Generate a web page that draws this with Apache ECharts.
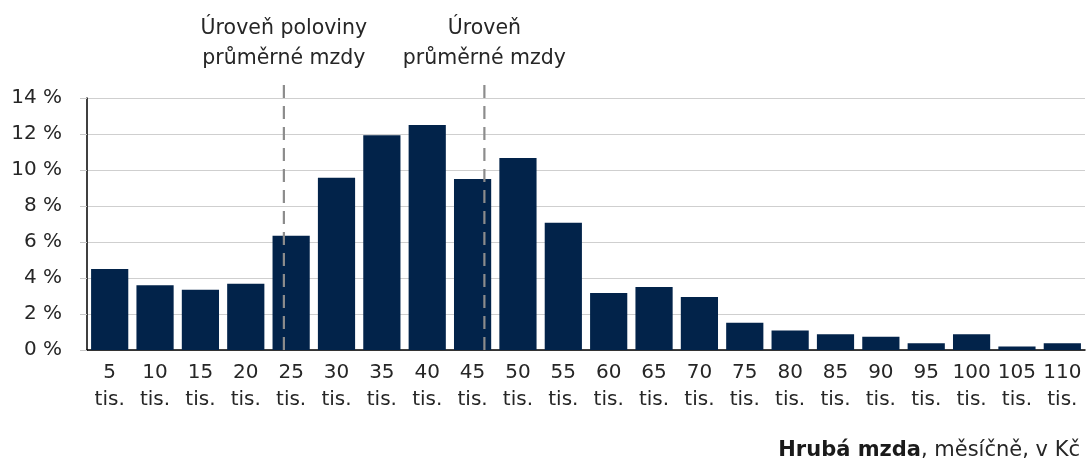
<!DOCTYPE html>
<html><head><meta charset="utf-8">
<script src="https://cdn.jsdelivr.net/npm/echarts@6/dist/echarts.min.js"></script>
<style>html,body{margin:0;padding:0;background:#fff}#c{width:1089px;height:466px}</style>
</head><body><div id="c"></div>
<script>
const catLabels = ['5','10','15','20','25','30','35','40','45','50','55','60','65','70','75','80','85','90','95','100','105','110'];
const values = [4.5, 3.6, 3.35, 3.68, 6.35, 9.57, 11.93, 12.5, 9.5, 10.67, 7.07, 3.17, 3.5, 2.94, 1.52, 1.09, 0.87, 0.74, 0.37, 0.87, 0.19, 0.37];
const yTicks = [0, 2, 4, 6, 8, 10, 12, 14];
const refLinePos = [24.2, 46.3]; // in thousand CZK
const refLineLabels = ['Úroveň poloviny\nprůměrné mzdy', 'Úroveň\nprůměrné mzdy'];

const FONT = 'DejaVu Sans';
const chart = echarts.init(document.getElementById('c'), null, {renderer: 'canvas'});
const cats = catLabels.map(c => c + '\ntis.');
const step = 5;
const option = {
  animation: false,
  textStyle: {fontFamily: FONT},
  grid: {left: 87, right: 4, top: 98, bottom: 116, containLabel: false},
  xAxis: [{
    type: 'category', data: cats,
    axisLine: {lineStyle: {color: '#000', width: 1.5}},
    axisTick: {show: false},
    axisLabel: {interval: 0, color: '#262626', fontSize: 20, lineHeight: 27, margin: 9, fontFamily: FONT}
  }, {
    type: 'value', show: false,
    min: step / 2, max: step * catLabels.length + step / 2
  }],
  yAxis: {
    type: 'value', min: yTicks[0], max: yTicks[yTicks.length - 1], interval: 2,
    axisLine: {show: true, lineStyle: {color: '#000', width: 1.5}},
    axisTick: {show: true, length: 7, lineStyle: {color: '#c8c8c8'}},
    splitLine: {lineStyle: {color: '#cfcfcf', width: 1}},
    axisLabel: {formatter: '{value} %', color: '#262626', fontSize: 20, margin: 25, fontFamily: FONT}
  },
  title: {
    right: 4, top: 435,
    text: '{b|Hrubá mzda}{n|, měsíčně, v Kč}',
    textStyle: {fontWeight: 'normal', rich: {
      b: {fontWeight: 'bold', fontSize: 21, color: '#1a1a1a', fontFamily: FONT},
      n: {fontWeight: 'normal', fontSize: 21, color: '#262626', fontFamily: FONT}
    }}
  },
  series: [{
    type: 'bar', data: values, barCategoryGap: '18%',
    itemStyle: {color: '#02234a'}
  }, {
    type: 'custom', xAxisIndex: 1, clip: false, z: 5,
    data: refLinePos.map((v, i) => [v, i]),
    renderItem: function (params, api) {
      const x = api.value(0);
      const idx = api.value(1);
      const p0 = api.coord([x, 0]);
      const p1 = api.coord([x, 14.9]);
      return {
        type: 'group', children: [{
          type: 'line',
          shape: {x1: p0[0], y1: p0[1], x2: p1[0], y2: p1[1]},
          style: {stroke: '#8c8c8c', lineWidth: 2.2, lineDash: [13, 8]}
        }, {
          type: 'text',
          style: {
            x: p1[0], y: p1[1] - 8, text: refLineLabels[idx],
            textAlign: 'center', textVerticalAlign: 'bottom',
            fontSize: 20.5, lineHeight: 30, fill: '#262626', fontFamily: FONT
          }
        }]
      };
    }
  }]
};
chart.setOption(option);
</script></body></html>
